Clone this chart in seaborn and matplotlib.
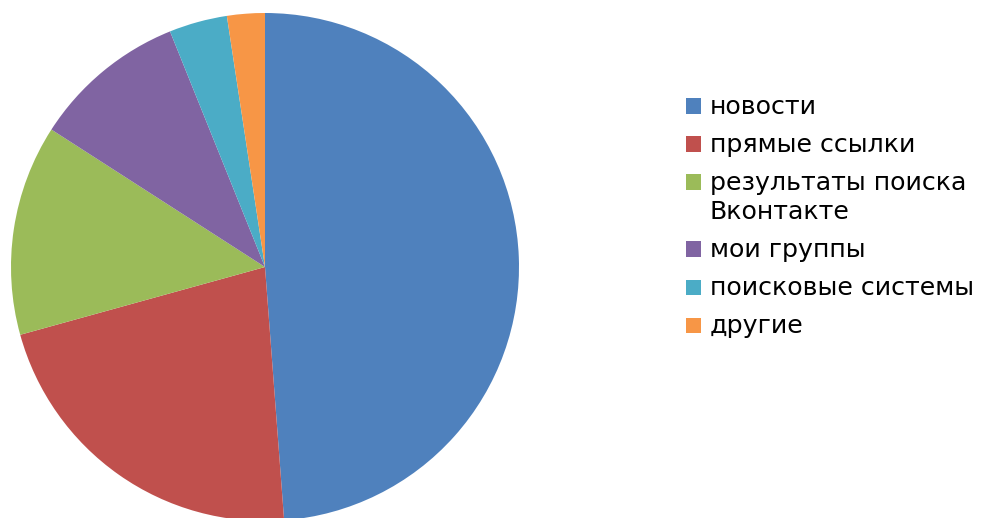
import matplotlib
matplotlib.use("Agg")
import matplotlib.pyplot as plt
import seaborn as sns
from matplotlib.patches import Rectangle

# ---- data ----
categories = ["новости", "прямые ссылки", "результаты поиска\nВконтакте",
              "мои группы", "поисковые системы", "другие"]
values = [48.8, 21.9, 13.4, 9.8, 3.7, 2.4]
colors = ["#4F81BD", "#C0504D", "#9BBB59", "#8064A2", "#4BACC6", "#F79646"]

sns.set_theme(style="white")
plt.rcParams['font.family'] = ['DejaVu Sans']

W, H = 984, 518
fig = plt.figure(figsize=(W / 100, H / 100), dpi=100)
fig.patch.set_facecolor("white")

cx, cy, r = 265, 267, 254
ax = fig.add_axes([(cx - r) / W, (H - cy - r) / H, 2 * r / W, 2 * r / H])
wedges, _ = ax.pie(values, colors=sns.color_palette(colors), startangle=90,
                   counterclock=False, wedgeprops=dict(linewidth=0, antialiased=True))
for w in wedges:
    w.set_clip_on(False)
ax.set_xlim(-1, 1)
ax.set_ylim(-1, 1)
ax.set_aspect("equal")
ax.axis("off")

# ---- legend (drawn manually so the marker aligns to the first line) ----
def fx(px):
    return px / W

def fy(py):
    return (H - py) / H

baseline = 114
row_step = 38
line_step = 29
for lab, col in zip(categories, colors):
    lines = lab.split("\n")
    fig.patches.append(Rectangle((fx(686), fy(baseline - 0.5)), 15 / W, 15 / H,
                                 transform=fig.transFigure, facecolor=col,
                                 edgecolor="none", figure=fig))
    for i, ln in enumerate(lines):
        fig.text(fx(710), fy(baseline + i * line_step), ln, fontsize=18.2,
                 color="black", va="baseline", ha="left")
    baseline += row_step + (len(lines) - 1) * line_step

fig.savefig("out.png", dpi=100, facecolor="white")
